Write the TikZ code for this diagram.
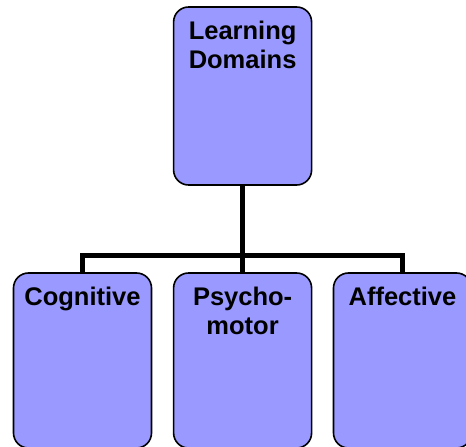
\documentclass[tikz,border=0pt]{standalone}
\usepackage{fontspec}
\setmainfont{Liberation Sans}
\usetikzlibrary{positioning}
\definecolor{ldink}{HTML}{000000}
\definecolor{ldfill}{HTML}{9999FF}
\tikzset{
  ld box/.style={draw=ldink, line width=1.6pt, rounded corners=15pt, fill=ldfill,
    minimum width=138pt, inner sep=0pt},
  ld text/.style={font=\bfseries\fontsize{25.5}{29}\selectfont, text=ldink, align=center,
    anchor=north, inner sep=0pt, yshift=-14.5pt},
  ld link/.style={draw=ldink, line width=5.5pt, line cap=butt, line join=miter}
}

\begin{document}
\begin{tikzpicture}[x=1pt, y=1pt]
  \useasboundingbox (0,0) rectangle (466,447);
  % top of the tree
  \node[ld box, minimum height=178pt, label={[ld text]north:Learning\\Domains}]
    (domains) at (242.6,351) {};
  % the three domains
  \node[ld box, minimum height=175pt, label={[ld text]north:Cognitive}]
    (cog) at (82.5,86.5) {};
  \node[ld box, minimum height=175pt, label={[ld text]north:Psycho-\\motor}]
    (psy) at (242.6,86.5) {};
  \node[ld box, minimum height=175pt, label={[ld text]north:Affective}]
    (aff) at (402.5,86.5) {};
  % connectors
  \coordinate (bar) at (242.6,191.5);
  \draw[ld link] (domains.south) -- (psy.north);
  \draw[ld link] (cog.north) |- (bar) -| (aff.north);
\end{tikzpicture}
\end{document}
